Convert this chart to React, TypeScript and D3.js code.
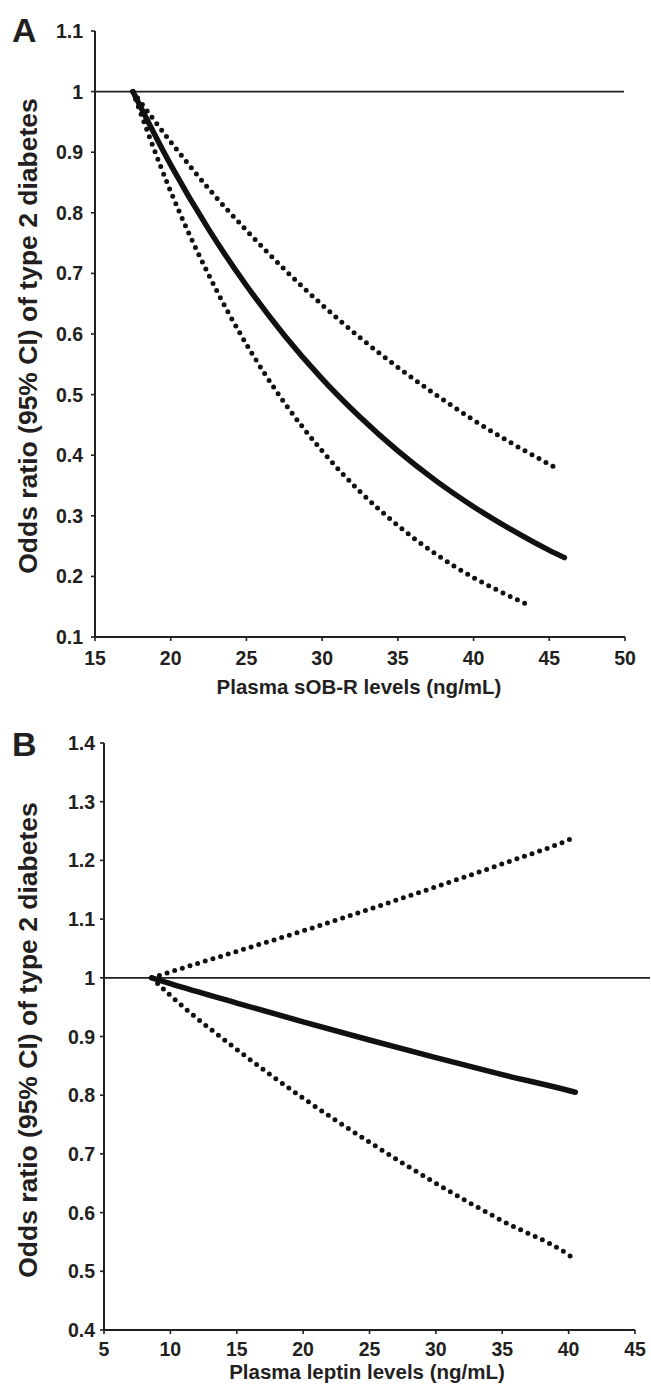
import React from "react";
import * as d3 from "d3";

// Panel A data (Plasma sOB-R)
const aX = [17.5, 20, 22.5, 25, 27.5, 30, 32.5, 35, 37.5, 40, 42.5, 45, 46];
const aOR = [1.0, 0.879, 0.773, 0.68, 0.598, 0.526, 0.463, 0.407, 0.358, 0.315, 0.277, 0.243, 0.231];
const aUpX = [17.5, 20, 22.5, 25, 27.5, 30, 32.5, 35, 37.5, 40, 42.5, 45.3];
const aUp = [1.0, 0.917, 0.84, 0.771, 0.707, 0.648, 0.594, 0.545, 0.5, 0.458, 0.42, 0.381];
const aLoX = [17.5, 20, 22.5, 25, 27.5, 30, 32.5, 35, 37.5, 40, 42.5, 43.6];
const aLo = [1.0, 0.835, 0.698, 0.583, 0.487, 0.407, 0.34, 0.284, 0.237, 0.198, 0.166, 0.153];

// Panel B data (Plasma leptin)
const bX = [8.6, 10, 15, 20, 25, 30, 35, 40, 40.5];
const bOR = [1.0, 0.99, 0.957, 0.925, 0.894, 0.864, 0.835, 0.808, 0.805];
const bUp = [1.0, 1.01, 1.045, 1.08, 1.117, 1.155, 1.194, 1.235, 1.24];
const bLo = [1.0, 0.97, 0.878, 0.795, 0.72, 0.65, 0.586, 0.528, 0.52];

const aXTicks = [15, 20, 25, 30, 35, 40, 45, 50];
const aYTicks = [0.1, 0.2, 0.3, 0.4, 0.5, 0.6, 0.7, 0.8, 0.9, 1.0, 1.1];
const aYLabels = ["0.1", "0.2", "0.3", "0.4", "0.5", "0.6", "0.7", "0.8", "0.9", "1", "1.1"];
const bXTicks = [5, 10, 15, 20, 25, 30, 35, 40, 45];
const bYTicks = [0.4, 0.5, 0.6, 0.7, 0.8, 0.9, 1.0, 1.1, 1.2, 1.3, 1.4];
const bYLabels = ["0.4", "0.5", "0.6", "0.7", "0.8", "0.9", "1", "1.1", "1.2", "1.3", "1.4"];

const FONT = "'Liberation Sans', Arial, sans-serif";
const INK = "#231f20";

type PanelProps = {
  letter: string;
  letterY: number;
  xDomain: [number, number];
  xRange: [number, number];
  yDomain: [number, number];
  yRange: [number, number];
  xTicks: number[];
  yTicks: number[];
  yLabels: string[];
  refLineEnd: number;
  xTitle: string;
  xTitleX: number;
  xTitleY: number;
  xTickLabelGap: number;
  yLabelGap: number;
  yTitleCenter: number;
  solid: [number[], number[]];
  upper: [number[], number[]];
  lower: [number[], number[]];
};

function Panel(p: PanelProps) {
  const x = d3.scaleLinear().domain(p.xDomain).range(p.xRange);
  const y = d3.scaleLinear().domain(p.yDomain).range(p.yRange);
  const line = d3
    .line<[number, number]>()
    .x((d) => x(d[0]))
    .y((d) => y(d[1]))
    .curve(d3.curveMonotoneX);
  const pts = (s: [number[], number[]]) => s[0].map((v, i) => [v, s[1][i]] as [number, number]);
  const x0 = p.xRange[0];
  const x1 = p.xRange[1];
  const y0 = p.yRange[0];
  const y1 = p.yRange[1];
  return (
    <g fontFamily={FONT} fill={INK}>
      <text x={12} y={p.letterY} fontSize={34} fontWeight="bold">{p.letter}</text>
      {/* axes */}
      <line x1={x0} x2={x0} y1={y1} y2={y0} stroke={INK} strokeWidth={2} />
      <line x1={x0} x2={x1} y1={y0} y2={y0} stroke={INK} strokeWidth={2} />
      {p.yTicks.map((t, i) => (
        <g key={"y" + i}>
          <line x1={x0 - 4} x2={x0} y1={y(t)} y2={y(t)} stroke={INK} strokeWidth={1.6} />
          <text x={x0 - p.yLabelGap} y={y(t)} dy="0.36em" textAnchor="end" fontSize={19.5} fontWeight="bold">
            {p.yLabels[i]}
          </text>
        </g>
      ))}
      {p.xTicks.map((t, i) => (
        <g key={"x" + i}>
          <line x1={x(t)} x2={x(t)} y1={y0} y2={y0 + 4} stroke={INK} strokeWidth={1.6} />
          <text x={x(t)} y={y0 + p.xTickLabelGap} textAnchor="middle" fontSize={19.5} fontWeight="bold">
            {t}
          </text>
        </g>
      ))}
      {/* reference line at OR = 1 */}
      <line x1={x0} x2={p.refLineEnd} y1={y(1)} y2={y(1)} stroke={INK} strokeWidth={1.7} />
      {/* curves */}
      <path d={line(pts(p.upper)) || ""} fill="none" stroke="#111" strokeWidth={5} strokeLinecap="round" strokeDasharray="0 8" />
      <path d={line(pts(p.lower)) || ""} fill="none" stroke="#111" strokeWidth={5} strokeLinecap="round" strokeDasharray="0 8" />
      <path d={line(pts(p.solid)) || ""} fill="none" stroke="#111" strokeWidth={5.5} strokeLinecap="round" />
      {/* titles */}
      <text x={p.xTitleX} y={p.xTitleY} textAnchor="middle" fontSize={20.5} fontWeight="bold">
        {p.xTitle}
      </text>
      <text
        transform={`translate(37,${p.yTitleCenter}) rotate(-90)`}
        textAnchor="middle"
        fontSize={26.5}
        fontWeight="bold"
      >
        Odds ratio (95% CI) of type 2 diabetes
      </text>
    </g>
  );
}

export default function App() {
  return (
    <svg width={651} height={1386} style={{ display: "block", position: "absolute", left: 0, top: 0 }}>
      <rect width={651} height={1386} fill="#fff" />
      <Panel
        letter="A"
        letterY={42}
        xDomain={[15, 50]}
        xRange={[95, 625]}
        yDomain={[0.1, 1.1]}
        yRange={[637, 31]}
        xTicks={aXTicks}
        yTicks={aYTicks}
        yLabels={aYLabels}
        refLineEnd={624}
        xTitle="Plasma sOB-R levels (ng/mL)"
        xTitleX={359}
        xTitleY={694}
        xTickLabelGap={28}
        yLabelGap={12}
        yTitleCenter={336}
        solid={[aX, aOR]}
        upper={[aUpX, aUp]}
        lower={[aLoX, aLo]}
      />
      <Panel
        letter="B"
        letterY={756}
        xDomain={[5, 45]}
        xRange={[104, 635]}
        yDomain={[0.4, 1.4]}
        yRange={[1330, 743]}
        xTicks={bXTicks}
        yTicks={bYTicks}
        yLabels={bYLabels}
        refLineEnd={650}
        xTitle="Plasma leptin levels (ng/mL)"
        xTitleX={367}
        xTitleY={1379}
        xTickLabelGap={26}
        yLabelGap={9}
        yTitleCenter={1040}
        solid={[bX, bOR]}
        upper={[bX, bUp]}
        lower={[bX, bLo]}
      />
    </svg>
  );
}
